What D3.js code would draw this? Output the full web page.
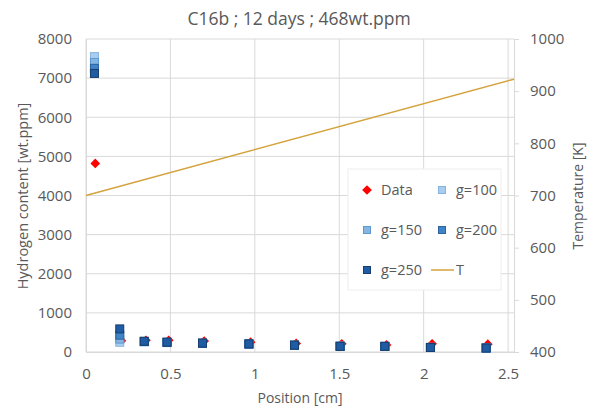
<!DOCTYPE html>
<html>
<head>
<meta charset="utf-8">
<script src="https://cdn.jsdelivr.net/npm/d3@7.9.0/dist/d3.min.js"></script>
<style>
  body { margin: 0; background: #fff; }
  svg text { font-family: "Open Sans", "Liberation Sans", sans-serif; fill: #595959; }
</style>
</head>
<body>
<svg width="598" height="410"></svg>
<script>
// measured data
const dataX = [0.055, 0.21, 0.355, 0.49, 0.70, 0.975, 1.245, 1.515, 1.78, 2.05, 2.38];
const dataY = [4820, 290, 300, 300, 280, 250, 220, 210, 180, 210, 200];

const gX = [0.05, 0.2, 0.345, 0.48, 0.69, 0.965, 1.235, 1.505, 1.77, 2.04, 2.37];
const g100 = [7550, 250, 260, 240, 220, 200, 170, 150, 140, 120, 100];
const g150 = [7400, 330, 265, 245, 222, 202, 172, 148, 142, 118, 102];
const g200 = [7250, 430, 270, 250, 225, 205, 175, 145, 145, 115, 105];
const g250 = [7120, 590, 275, 250, 228, 208, 175, 145, 145, 115, 100];

const tempX = [0, 2.535];
const tempY = [700, 923];

const xTicks = [0, 0.5, 1, 1.5, 2, 2.5];
const yTicks = [0, 1000, 2000, 3000, 4000, 5000, 6000, 7000, 8000];
const tTicks = [400, 500, 600, 700, 800, 900, 1000];

const series = [
  { name: 'g=100', vals: g100, fill: '#a9cdee', stroke: '#86b4e0' },
  { name: 'g=150', vals: g150, fill: '#86b5e2', stroke: '#5d98d0' },
  { name: 'g=200', vals: g200, fill: '#3e84c6', stroke: '#2b64a0' },
  { name: 'g=250', vals: g250, fill: '#1f5ca3', stroke: '#163e6e' },
];

const svg = d3.select('svg');
const pLeft = 86, pRight = 514, pTop = 39, pBottom = 352;

const x = d3.scaleLinear().domain([0, 2.535]).range([pLeft, pRight]);
const y = d3.scaleLinear().domain([0, 8000]).range([pBottom, pTop]);
const yT = d3.scaleLinear().domain([400, 1000]).range([pBottom, pTop]);

// gridlines
svg.append('g').selectAll('line').data(yTicks).join('line')
  .attr('x1', pLeft).attr('x2', pRight)
  .attr('y1', d => y(d)).attr('y2', d => y(d))
  .attr('stroke', '#d9d9d9').attr('stroke-width', 1);
svg.append('g').selectAll('line').data(xTicks).join('line')
  .attr('x1', d => x(d)).attr('x2', d => x(d))
  .attr('y1', pTop).attr('y2', pBottom)
  .attr('stroke', '#d9d9d9').attr('stroke-width', 1);

// axes
const xAxis = svg.append('g').attr('transform', `translate(0,${pBottom})`)
  .call(d3.axisBottom(x).tickValues(xTicks).tickSize(0).tickPadding(16).tickFormat(d3.format('')));
const yAxis = svg.append('g').attr('transform', `translate(${pLeft},0)`)
  .call(d3.axisLeft(y).tickValues(yTicks).tickSize(0).tickPadding(14).tickFormat(d3.format('')));
const tAxis = svg.append('g').attr('transform', `translate(${pRight},0)`)
  .call(d3.axisRight(yT).tickValues(tTicks).tickSize(5).tickPadding(11).tickFormat(d3.format('')));
[xAxis, yAxis, tAxis].forEach(a => {
  a.selectAll('path').attr('stroke', '#d9d9d9');
  a.selectAll('line').attr('stroke', '#d9d9d9');
  a.selectAll('text').style('font-size', '15px').attr('fill', '#595959');
});

// temperature line
svg.append('path')
  .datum(d3.zip(tempX, tempY))
  .attr('d', d3.line().x(d => x(d[0])).y(d => yT(d[1])))
  .attr('fill', 'none').attr('stroke', '#d4a33d').attr('stroke-width', 1.5);

// data diamonds
const diamond = d3.symbol().type(d3.symbolDiamond2).size(60);
svg.append('g').selectAll('path').data(d3.zip(dataX, dataY)).join('path')
  .attr('d', diamond)
  .attr('transform', d => `translate(${x(d[0])},${y(d[1])})`)
  .attr('fill', '#ff0000');

// model squares
series.forEach(s => {
  svg.append('g').selectAll('rect').data(d3.zip(gX, s.vals)).join('rect')
    .attr('x', d => x(d[0]) - 4).attr('y', d => y(d[1]) - 4)
    .attr('width', 8).attr('height', 8)
    .attr('fill', s.fill).attr('stroke', s.stroke).attr('stroke-width', 1);
});

// titles
svg.append('text').attr('x', 299).attr('y', 25).attr('text-anchor', 'middle')
  .style('font-size', '17.5px').text('C16b ; 12 days ; 468wt.ppm');
svg.append('text').attr('x', 300).attr('y', 403).attr('text-anchor', 'middle')
  .style('font-size', '14px').text('Position [cm]');
svg.append('text').attr('transform', 'translate(28,196) rotate(-90)').attr('text-anchor', 'middle')
  .style('font-size', '14.5px').text('Hydrogen content [wt.ppm]');
svg.append('text').attr('transform', 'translate(583,196) rotate(-90)').attr('text-anchor', 'middle')
  .style('font-size', '14px').text('Temperature [K]');

// legend
const lg = svg.append('g');
lg.append('rect').attr('x', 348).attr('y', 169).attr('width', 153).attr('height', 121)
  .attr('fill', '#fff').attr('stroke', '#eeeeee');
const items = [
  { name: 'Data', type: 'diamond', col: 0, row: 0 },
  { name: 'g=100', type: 'sq', s: series[0], col: 1, row: 0 },
  { name: 'g=150', type: 'sq', s: series[1], col: 0, row: 1 },
  { name: 'g=200', type: 'sq', s: series[2], col: 1, row: 1 },
  { name: 'g=250', type: 'sq', s: series[3], col: 0, row: 2 },
  { name: 'T', type: 'line', col: 1, row: 2 },
];
items.forEach(it => {
  const mx = it.col === 0 ? 367 : 442;
  const my = 190 + it.row * 40;
  if (it.type === 'diamond') {
    lg.append('path').attr('d', diamond).attr('transform', `translate(${mx},${my})`).attr('fill', '#ff0000');
  } else if (it.type === 'sq') {
    lg.append('rect').attr('x', mx - 3.5).attr('y', my - 3.5).attr('width', 7).attr('height', 7)
      .attr('fill', it.s.fill).attr('stroke', it.s.stroke);
  } else {
    lg.append('line').attr('x1', 431).attr('x2', 454).attr('y1', my).attr('y2', my)
      .attr('stroke', '#d4a33d').attr('stroke-width', 1.5);
  }
  lg.append('text').attr('x', it.type === 'line' ? 456 : mx + 14).attr('y', my + 5)
    .style('font-size', '14.5px').text(it.name);
});
</script>
</body>
</html>
